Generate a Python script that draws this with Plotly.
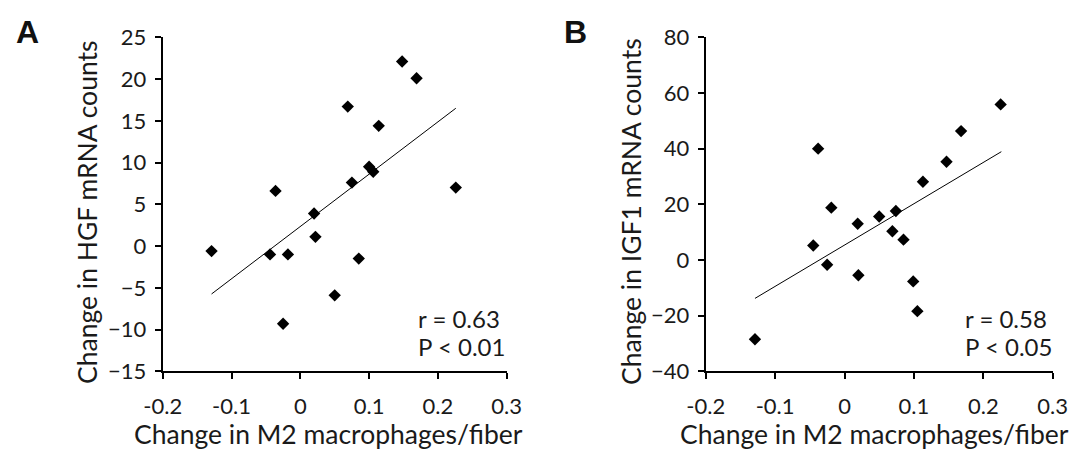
import plotly.graph_objects as go

# Shared x values: change in M2 macrophages/fiber
m2_change = [-0.129, -0.044, -0.036, -0.018, -0.025, 0.020, 0.022, 0.050, 0.069,
             0.075, 0.085, 0.100, 0.106, 0.114, 0.148, 0.169, 0.226]
hgf_change = [-0.6, -1.0, 6.6, -1.0, -9.3, 3.9, 1.1, -5.9, 16.7,
              7.6, -1.5, 9.5, 8.9, 14.4, 22.1, 20.1, 7.0]

m2_change_b = [-0.129, -0.045, -0.038, -0.025, -0.019, 0.019, 0.020, 0.050, 0.069,
               0.074, 0.085, 0.099, 0.105, 0.113, 0.147, 0.168, 0.225]
igf1_change = [-28.5, 5.2, 40.0, -1.7, 18.8, 13.0, -5.5, 15.6, 10.3,
               17.6, 7.3, -7.7, -18.4, 28.1, 35.3, 46.3, 55.9]

trend_x_a = [-0.129, 0.226]
trend_y_a = [-5.74, 16.5]
trend_x_b = [-0.129, 0.226]
trend_y_b = [-13.8, 38.9]

x_ticks = [-0.2, -0.1, 0, 0.1, 0.2, 0.3]
x_ticktext = ["-0.2", "-0.1", "0", "0.1", "0.2", "0.3"]
y_ticks_a = [-15, -10, -5, 0, 5, 10, 15, 20, 25]
y_ticks_b = [-40, -20, 0, 20, 40, 60, 80]

stats_a = ["r = 0.63", "P < 0.01"]
stats_b = ["r = 0.58", "P < 0.05"]

FONT = "Lato, 'Open Sans', sans-serif"
W, H = 1079, 456

fig = go.Figure()
marker = dict(symbol="diamond", size=9.5, color="black")
fig.add_trace(go.Scatter(x=m2_change, y=hgf_change, mode="markers", marker=marker,
                         xaxis="x", yaxis="y", showlegend=False))
fig.add_trace(go.Scatter(x=trend_x_a, y=trend_y_a, mode="lines",
                         line=dict(color="black", width=1), xaxis="x", yaxis="y", showlegend=False))
fig.add_trace(go.Scatter(x=m2_change_b, y=igf1_change, mode="markers", marker=marker,
                         xaxis="x2", yaxis="y2", showlegend=False))
fig.add_trace(go.Scatter(x=trend_x_b, y=trend_y_b, mode="lines",
                         line=dict(color="black", width=1), xaxis="x2", yaxis="y2", showlegend=False))

ydom = [1 - 371.3 / H, 1 - 37.3 / H]
xa_dom = [162.7 / W, 506.7 / W]
xb_dom = [705.7 / W, 1052.7 / W]

axis_common = dict(showline=True, linecolor="black", linewidth=2, ticks="outside",
                   ticklen=6, tickwidth=2, tickcolor="black", showgrid=False,
                   zeroline=False, automargin=False,
                   tickfont=dict(family=FONT, size=22, color="#1a1a1a"))

fig.update_layout(
    width=W, height=H,
    margin=dict(l=0, r=0, t=0, b=0),
    paper_bgcolor="white", plot_bgcolor="white",
    font=dict(family=FONT, color="#1a1a1a"),
    xaxis=dict(domain=xa_dom, range=[-0.2, 0.3], tickvals=x_ticks, ticktext=x_ticktext,
               anchor="y", ticklabelstandoff=8, **axis_common),
    yaxis=dict(domain=ydom, range=[-15, 25], tickvals=y_ticks_a, anchor="x",
               ticklabelstandoff=4, **axis_common),
    xaxis2=dict(domain=xb_dom, range=[-0.2, 0.3], tickvals=x_ticks, ticktext=x_ticktext,
                anchor="y2", ticklabelstandoff=8, **axis_common),
    yaxis2=dict(domain=ydom, range=[-40, 80], tickvals=y_ticks_b, anchor="x2",
                ticklabelstandoff=4, **axis_common),
)

ann = []
title_font = dict(family=FONT, size=26.5, color="#1a1a1a")
ann.append(dict(text="Change in M2 macrophages/fiber", x=328 / W, y=1 - 434 / H,
                xref="paper", yref="paper", showarrow=False, font=title_font,
                xanchor="center", yanchor="middle"))
ann.append(dict(text="Change in M2 macrophages/fiber", x=874 / W, y=1 - 434 / H,
                xref="paper", yref="paper", showarrow=False, font=title_font,
                xanchor="center", yanchor="middle"))
ann.append(dict(text="Change in HGF mRNA counts", x=87 / W, y=1 - 213 / H,
                xref="paper", yref="paper", showarrow=False, font=title_font,
                textangle=-90, xanchor="center", yanchor="middle"))
ann.append(dict(text="Change in IGF1 mRNA counts", x=631 / W, y=1 - 212 / H,
                xref="paper", yref="paper", showarrow=False, font=title_font,
                textangle=-90, xanchor="center", yanchor="middle"))
panel_font = dict(family="Liberation Sans, Arial, sans-serif", size=32, color="#111")
ann.append(dict(text="<b>A</b>", x=14 / W, y=1 - 32 / H, xref="paper", yref="paper",
                showarrow=False, font=panel_font, xanchor="left", yanchor="middle"))
ann.append(dict(text="<b>B</b>", x=562 / W, y=1 - 32 / H, xref="paper", yref="paper",
                showarrow=False, font=panel_font, xanchor="left", yanchor="middle"))
stat_font = dict(family=FONT, size=24, color="#1a1a1a")
for i, t in enumerate(stats_a):
    ann.append(dict(text=t, x=416 / W, y=1 - (318 + 28 * i) / H, xref="paper", yref="paper",
                    showarrow=False, font=stat_font, xanchor="left", yanchor="middle"))
for i, t in enumerate(stats_b):
    ann.append(dict(text=t, x=963 / W, y=1 - (318 + 28 * i) / H, xref="paper", yref="paper",
                    showarrow=False, font=stat_font, xanchor="left", yanchor="middle"))
fig.update_layout(annotations=ann)

fig.write_html("out.html", config={"displayModeBar": False},
               post_script="document.body.style.margin='0';document.body.style.overflow='hidden';")
